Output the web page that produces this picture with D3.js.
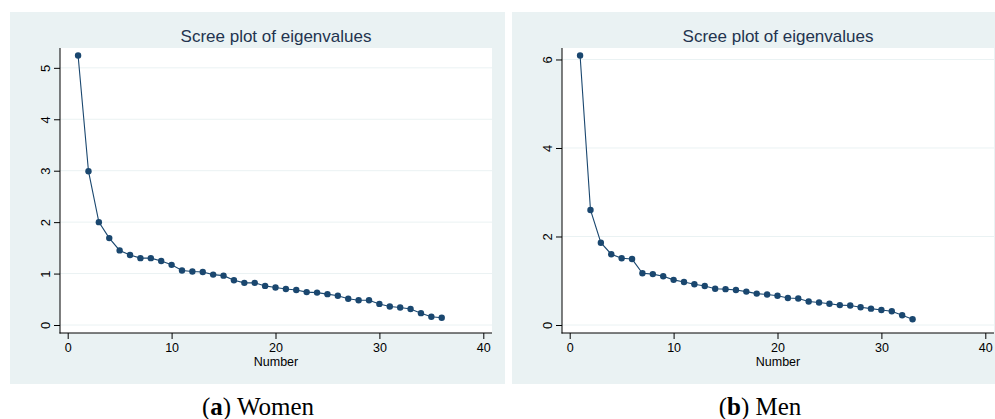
<!DOCTYPE html>
<html>
<head>
<meta charset="utf-8">
<script src="https://cdn.jsdelivr.net/npm/d3@7"></script>
<style>
  body { margin: 0; background: #fff; }
  svg { display: block; }
</style>
</head>
<body>
<svg id="chart" width="995" height="419"></svg>
<script>
// Eigenvalues
var womenValues = [5.24, 2.99, 2.00, 1.69, 1.45, 1.36, 1.30, 1.30, 1.245, 1.17,
                   1.06, 1.04, 1.03, 0.98, 0.96, 0.87, 0.82, 0.82, 0.76, 0.73,
                   0.70, 0.68, 0.64, 0.63, 0.60, 0.57, 0.51, 0.48, 0.48, 0.41,
                   0.36, 0.34, 0.31, 0.23, 0.16, 0.14];
var menValues = [6.09, 2.60, 1.86, 1.60, 1.51, 1.49, 1.17, 1.15, 1.10, 1.02,
                 0.97, 0.92, 0.88, 0.82, 0.81, 0.79, 0.755, 0.71, 0.69, 0.66,
                 0.61, 0.60, 0.53, 0.51, 0.48, 0.45, 0.44, 0.40, 0.37, 0.34,
                 0.31, 0.22, 0.13];
var womenTicks = [0, 1, 2, 3, 4, 5];
var menTicks = [0, 2, 4, 6];
var xTicks = [0, 10, 20, 30, 40];
var panelTitle = "Scree plot of eigenvalues";
var xTitle = "Number";

var navy = "#1a476f";
var bg = "#eaf2f3";
var svg = d3.select("#chart");

function drawPanel(offset, values, yTicks, label, name) {
    var g = svg.append("g").attr("transform", "translate(" + offset + ",0)");

    // Graph region
    g.append("rect")
        .attr("x", 10).attr("y", 12)
        .attr("width", 495).attr("height", 372)
        .attr("fill", bg);
    g.append("rect")
        .attr("x", 60).attr("y", 48)
        .attr("width", 432).attr("height", 285)
        .attr("fill", "#fff");

    var x = d3.scaleLinear().domain([0, 40]).range([67.7, 483.3]);
    var y = d3.scaleLinear().domain([0, d3.max(values)]).range([325, 55.5]);

    // Grid lines
    g.append("g")
        .selectAll("line")
        .data(yTicks)
        .enter()
        .append("line")
        .attr("x1", 60).attr("x2", 492)
        .attr("y1", function (d) { return y(d); })
        .attr("y2", function (d) { return y(d); })
        .attr("stroke", bg)
        .attr("stroke-width", 1);

    // Title
    g.append("text")
        .attr("x", 276).attr("y", 42)
        .attr("text-anchor", "middle")
        .attr("font-family", "Liberation Sans, Arial, sans-serif")
        .attr("font-size", 17)
        .attr("fill", "#23344f")
        .text(panelTitle);

    // Y axis
    var yAxis = g.append("g")
        .attr("transform", "translate(60,0)")
        .call(d3.axisLeft(y).tickValues(yTicks).tickSize(6).tickFormat(d3.format("d")));
    yAxis.select(".domain").remove();
    yAxis.selectAll(".tick text")
        .attr("transform", "rotate(-90)")
        .attr("x", 0).attr("y", -10).attr("dy", 0)
        .attr("text-anchor", "middle")
        .attr("font-family", "Liberation Sans, Arial, sans-serif")
        .attr("font-size", 13)
        .attr("fill", "#000");
    yAxis.append("line")
        .attr("x1", 0).attr("x2", 0).attr("y1", 48).attr("y2", 333.5)
        .attr("stroke", "#000");

    // X axis
    var xAxis = g.append("g")
        .attr("transform", "translate(0,333)")
        .call(d3.axisBottom(x).tickValues(xTicks).tickSize(6));
    xAxis.select(".domain").remove();
    xAxis.selectAll(".tick text")
        .attr("y", 19).attr("dy", 0)
        .attr("font-family", "Liberation Sans, Arial, sans-serif")
        .attr("font-size", 12.5)
        .attr("fill", "#000");
    xAxis.append("line")
        .attr("x1", 59.5).attr("x2", 492).attr("y1", 0).attr("y2", 0)
        .attr("stroke", "#000");

    g.append("text")
        .attr("x", 276).attr("y", 366)
        .attr("text-anchor", "middle")
        .attr("font-family", "Liberation Sans, Arial, sans-serif")
        .attr("font-size", 12.5)
        .attr("fill", "#000")
        .text(xTitle);

    // Line and markers
    var line = d3.line()
        .x(function (d, i) { return x(i + 1); })
        .y(function (d) { return y(d); });
    g.append("path")
        .datum(values)
        .attr("d", line)
        .attr("fill", "none")
        .attr("stroke", navy)
        .attr("stroke-width", 1.1);
    g.append("g")
        .selectAll("circle")
        .data(values)
        .enter()
        .append("circle")
        .attr("cx", function (d, i) { return x(i + 1); })
        .attr("cy", function (d) { return y(d); })
        .attr("r", 3.2)
        .attr("fill", navy);

    // Caption
    var cap = g.append("text")
        .attr("x", 258).attr("y", 415)
        .attr("text-anchor", "middle")
        .attr("font-family", "Liberation Serif, Times New Roman, serif")
        .attr("font-size", 25)
        .attr("fill", "#000");
    cap.append("tspan").text("(");
    cap.append("tspan").attr("font-weight", "bold").text(label);
    cap.append("tspan").text(") " + name);
}

drawPanel(0, womenValues, womenTicks, "a", "Women");
drawPanel(502, menValues, menTicks, "b", "Men");
</script>
</body>
</html>
